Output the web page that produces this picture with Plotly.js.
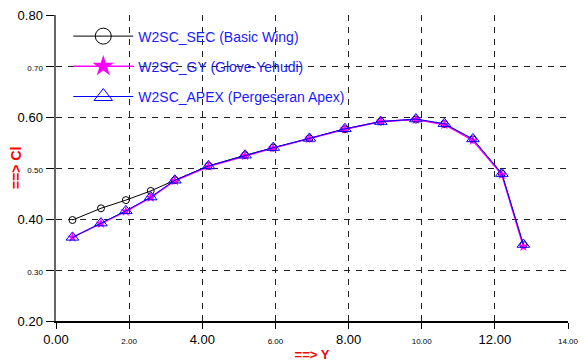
<!DOCTYPE html>
<html><head><meta charset="utf-8">
<script src="https://cdn.plot.ly/plotly-3.0.1.min.js"></script>
<style>html,body{margin:0;padding:0;background:#fff}</style>
</head><body><div id="chart" style="width:584px;height:362px"></div>
<script>
const xSec  = [0.45, 1.23, 1.91, 2.59, 3.25, 4.17, 5.17, 5.94, 6.93, 7.90, 8.88, 9.84, 10.62, 11.40, 12.19, 12.78];
const ySec  = [0.398, 0.421, 0.437, 0.455, 0.476, 0.504, 0.525, 0.540, 0.558, 0.576, 0.591, 0.595, 0.586, 0.556, 0.489, 0.349];
const xGy   = [0.45, 1.23, 1.91, 2.59, 3.25, 4.17, 5.17, 5.94, 6.93, 7.90, 8.88, 9.84, 10.62, 11.40, 12.19, 12.78];
const yGy   = [0.364, 0.391, 0.415, 0.442, 0.475, 0.503, 0.524, 0.539, 0.558, 0.576, 0.591, 0.595, 0.585, 0.554, 0.487, 0.346];
const xApex = [0.45, 1.23, 1.91, 2.59, 3.25, 4.17, 5.17, 5.94, 6.93, 7.90, 8.88, 9.84, 10.62, 11.40, 12.19, 12.78];
const yApex = [0.364, 0.392, 0.416, 0.443, 0.476, 0.504, 0.525, 0.540, 0.558, 0.577, 0.591, 0.596, 0.587, 0.557, 0.489, 0.350];
const names = ['W2SC_SEC (Basic Wing)', 'W2SC_GY (Glove-Yehudi)', 'W2SC_APEX (Pergeseran Apex)'];
const xTickVals = [0, 2, 4, 6, 8, 10, 12, 14];
const xTickText = ['0.00', '2.00', '4.00', '6.00', '8.00', '10.00', '12.00', '14.00'];
const yTickVals = [0.2, 0.3, 0.4, 0.5, 0.6, 0.7, 0.8];
const yTickText = ['0.20', '0.30', '0.40', '0.50', '0.60', '0.70', '0.80'];
const xTitle = '==> Y';
const yTitle = '==> Cl';

const esc = s => s.replace(/>/g, '&gt;');
const small = s => '<span style="font-size:8px">' + s + '</span>';
const xText = xTickText.map((t, i) => i % 2 ? small(t) : t);
const yText = yTickText.map((t, i) => i % 2 ? small(t) : t);

const traces = [
  {x: xSec, y: ySec, mode: 'lines+markers', showlegend: false,
   line: {color: '#000000', width: 1},
   marker: {symbol: 'circle-open', size: 7, color: '#000000', line: {width: 1}}},
  {x: xGy, y: yGy, mode: 'lines+markers', showlegend: false,
   line: {color: '#ff00ff', width: 1.5},
   marker: {symbol: 'star', size: 8, color: '#ff00ff'}},
  {x: xApex, y: yApex, mode: 'lines+markers', showlegend: false,
   line: {color: '#0000ff', width: 1},
   marker: {symbol: 'triangle-up-open', size: 11, color: '#0000ff', line: {width: 1}}},
  {x: [null], y: [null], mode: 'lines+markers', name: names[0], legendgroup: 'a',
   line: {color: '#000000', width: 1},
   marker: {symbol: 'circle-open', size: 16, color: '#000000', line: {width: 1}}},
  {x: [null], y: [null], mode: 'lines+markers', name: names[1], legendgroup: 'b',
   line: {color: '#ff00ff', width: 1.5},
   marker: {symbol: 'star', size: 16, color: '#ff00ff'}},
  {x: [null], y: [null], mode: 'lines+markers', name: names[2], legendgroup: 'c',
   line: {color: '#0000ff', width: 1},
   marker: {symbol: 'triangle-up-open', size: 16, color: '#0000ff', line: {width: 1}}}
];

const layout = {
  width: 584, height: 362,
  margin: {l: 56, r: 16, t: 15, b: 41},
  paper_bgcolor: '#ffffff', plot_bgcolor: '#ffffff',
  font: {family: 'Liberation Sans, Arial, sans-serif', color: '#000000', size: 13},
  showlegend: true,
  legend: {x: 0.024, y: 0.982, xanchor: 'left', yanchor: 'top', bgcolor: 'rgba(0,0,0,0)',
           font: {color: '#1a1aff', size: 14}, traceorder: 'grouped', tracegroupgap: 9, itemwidth: 60},
  xaxis: {
    range: [0, 14], tickmode: 'array', tickvals: xTickVals, ticktext: xText,
    showgrid: true, gridcolor: '#222222', griddash: '6px,6px', gridwidth: 1,
    showline: true, linecolor: '#000000', linewidth: 1.5,
    ticks: 'outside', ticklen: 6, tickcolor: '#000000', zeroline: false,
    title: {text: '<b>' + esc(xTitle) + '</b>', font: {color: '#ff0000', size: 13}, standoff: 8}
  },
  yaxis: {
    range: [0.2, 0.8], tickmode: 'array', tickvals: yTickVals, ticktext: yText,
    showgrid: true, gridcolor: '#222222', griddash: '6px,6px', gridwidth: 1,
    showline: true, linecolor: '#666666', linewidth: 2.5,
    ticks: 'outside', ticklen: 8, tickcolor: '#000000', zeroline: false
  },
  annotations: [{
    text: '<b>' + esc(yTitle) + '</b>', xref: 'paper', yref: 'paper', x: 0, y: 0.5,
    xanchor: 'center', yanchor: 'middle', xshift: -40, textangle: -90, showarrow: false,
    font: {color: '#ff0000', size: 14}
  }]
};

Plotly.newPlot('chart', traces, layout, {displayModeBar: false, staticPlot: true});
</script></body></html>
